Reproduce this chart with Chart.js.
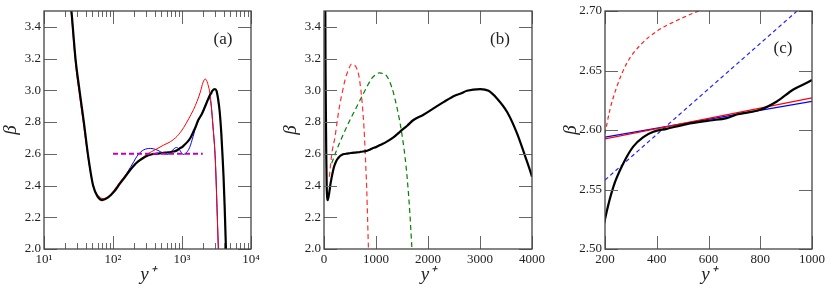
<!DOCTYPE html>
<html>
<head>
<meta charset="utf-8">
<script src="https://cdn.jsdelivr.net/npm/chart.js@4.4.0/dist/chart.umd.min.js"></script>
<style>
  body { margin: 0; background: #fff; width: 830px; height: 289px; position: relative; overflow: hidden; }
  canvas { position: absolute; top: 0; }
</style>
</head>
<body>
<canvas id="chartA" width="270" height="289" style="left:0px"></canvas>
<canvas id="chartB" width="270" height="289" style="left:280px"></canvas>
<canvas id="chartC" width="270" height="289" style="left:560px"></canvas>
<script>
// beta profile, shared by all three panels
const blackX = [12, 16, 20, 25, 28.6, 32.7, 37.8, 43.2, 51.5, 60, 70, 85, 103, 125, 150, 175, 200, 232, 271, 309, 348, 387, 438, 516, 606, 670, 709, 799, 864, 928, 1000, 1078, 1200, 1335, 1464, 1600, 1720, 1913, 2105, 2298, 2523, 2619, 2748, 3005, 3165, 3326, 3519, 3712, 3872, 4000, 4150, 4300, 4450];
const blackY = [5.2, 4.5, 3.95, 3.5, 3.2, 3.0, 2.8, 2.6, 2.4, 2.33, 2.308, 2.325, 2.36, 2.41, 2.455, 2.495, 2.525, 2.552, 2.572, 2.586, 2.594, 2.5985, 2.601, 2.605, 2.608, 2.610, 2.613, 2.617, 2.624, 2.634, 2.642, 2.655, 2.675, 2.703, 2.74, 2.777, 2.813, 2.846, 2.886, 2.926, 2.968, 2.978, 2.997, 3.008, 2.997, 2.949, 2.865, 2.729, 2.581, 2.455, 2.27, 2.05, 1.82];

// panel (a)
const redAX = [12, 16, 20, 25, 28.6, 32.7, 37.8, 43.2, 51.5, 60, 72, 85, 103, 125, 160, 200, 249, 300, 360, 435, 542, 678, 847, 1057, 1248, 1475, 1651, 1845, 2016, 2178, 2353, 2575, 2816, 3041, 3281, 3400, 3550];
const redAY = [5.2, 4.45, 3.9, 3.47, 3.17, 2.97, 2.77, 2.585, 2.4, 2.34, 2.318, 2.33, 2.37, 2.42, 2.48, 2.53, 2.565, 2.592, 2.613, 2.632, 2.655, 2.676, 2.71, 2.765, 2.82, 2.88, 2.93, 2.99, 3.05, 3.071, 3.044, 2.96, 2.77, 2.56, 2.14, 1.95, 1.7];
const blueAX = [100, 130, 160, 179, 200, 223, 250, 279, 348, 435, 542, 620, 718, 828, 925, 1035, 1156, 1291, 1445, 1614, 1845, 2178, 2433, 2600, 2816, 3041, 3281, 3420];
const blueAY = [2.355, 2.42, 2.48, 2.515, 2.55, 2.585, 2.61, 2.625, 2.634, 2.624, 2.603, 2.596, 2.62, 2.64, 2.624, 2.596, 2.607, 2.64, 2.707, 2.78, 2.833, 2.907, 2.95, 2.93, 2.77, 2.56, 2.15, 1.9];
const magentaX = [100, 2000];
const magentaY = [2.6, 2.6];

// panel (b)
const redDashBX = [103, 150, 212, 260, 308, 360, 404, 470, 533, 590, 629, 665, 693, 720, 745, 770, 790, 822, 854, 870];
const redDashBY = [2.455, 2.6, 2.707, 2.82, 2.918, 3.0, 3.065, 3.13, 3.166, 3.158, 3.138, 3.1, 3.044, 2.97, 2.876, 2.76, 2.624, 2.372, 2.01, 1.85];
const greenDashBX = [148, 244, 340, 437, 533, 629, 758, 918, 1000, 1065, 1140, 1207, 1303, 1400, 1496, 1579, 1643, 1689, 1710];
const greenDashBY = [2.54, 2.624, 2.70, 2.77, 2.835, 2.896, 2.98, 3.075, 3.1, 3.11, 3.105, 3.09, 3.02, 2.896, 2.729, 2.518, 2.266, 2.014, 1.9];

// panel (c)
const redCX = [200, 1000];
const redCY = [2.5925, 2.627];
const blueCX = [200, 1000];
const blueCY = [2.594, 2.624];
const redDashCX = [200, 219, 245, 284, 335, 400, 477, 561, 620];
const redDashCY = [2.597, 2.617, 2.636, 2.656, 2.671, 2.683, 2.692, 2.70, 2.705];
const blueDashCX = [200, 1000];
const blueDashCY = [2.558, 2.711];

// ticks
const xTicksA = [10, 100, 1000, 10000];
const xTicksB = [0, 1000, 2000, 3000, 4000];
const xTicksC = [200, 400, 600, 800, 1000];
const yTicksAB = [2.0, 2.2, 2.4, 2.6, 2.8, 3.0, 3.2, 3.4];
const yTicksC = [2.50, 2.55, 2.60, 2.65, 2.70];

const sup = { 1: '\u00b9', 2: '\u00b2', 3: '\u00b3', 4: '\u2074' };
const tickFont = { family: '"Liberation Serif", serif', size: 13 };
const titleFont = { family: '"Liberation Serif", serif', size: 19, style: 'italic' };

function pts(xs, ys) {
    return xs.map((x, i) => ({ x: x, y: ys[i] }));
}

function line(xs, ys, color, width, dash) {
    return {
        data: pts(xs, ys),
        borderColor: color,
        borderWidth: width,
        borderDash: dash || [],
        pointRadius: 0,
        fill: false,
        cubicInterpolationMode: 'monotone',
        clip: 0
    };
}

// frame, inward ticks on all four sides and the panel letter
const frameTicks = {
    id: 'frameTicks',
    afterDatasetsDraw(chart, args, opts) {
        const ctx = chart.ctx, a = chart.chartArea;
        const xs = chart.scales.x, ys = chart.scales.y;
        const major = 13, minor = 6;
        ctx.save();
        ctx.strokeStyle = '#666';
        ctx.lineWidth = 1;
        ctx.beginPath();
        xs.ticks.forEach(t => {
            const p = Math.round(xs.getPixelForValue(t.value)) + 0.5;
            ctx.moveTo(p, a.bottom); ctx.lineTo(p, a.bottom - major);
            ctx.moveTo(p, a.top); ctx.lineTo(p, a.top + major);
        });
        if (xs.type === 'logarithmic') {
            for (let k = 1; k < 4; k++) {
                for (let d = 2; d < 10; d++) {
                    const p = Math.round(xs.getPixelForValue(d * Math.pow(10, k))) + 0.5;
                    ctx.moveTo(p, a.bottom); ctx.lineTo(p, a.bottom - minor);
                    ctx.moveTo(p, a.top); ctx.lineTo(p, a.top + minor);
                }
            }
        }
        ys.ticks.forEach(t => {
            const p = Math.round(ys.getPixelForValue(t.value)) + 0.5;
            ctx.moveTo(a.left, p); ctx.lineTo(a.left + major, p);
            ctx.moveTo(a.right, p); ctx.lineTo(a.right - major, p);
        });
        ctx.stroke();
        ctx.strokeStyle = '#444';
        ctx.lineWidth = 1.3;
        ctx.strokeRect(a.left, a.top, a.right - a.left, a.bottom - a.top);
        ctx.fillStyle = '#222';
        ctx.font = '17px "Liberation Serif", serif';
        ctx.textAlign = 'center';
        ctx.textBaseline = 'middle';
        ctx.fillText(opts.label, a.right - opts.dx, a.top + opts.dy);
        ctx.restore();
    }
};

function xScale(type, min, max, ticks, fmt) {
    return {
        type: type, min: min, max: max,
        afterBuildTicks: s => { s.ticks = ticks.map(v => ({ value: v })); },
        afterFit: s => { s.height = 40; s.paddingLeft = 0; s.paddingRight = 0; },
        grid: { display: false, drawTicks: false },
        border: { display: false },
        ticks: { callback: fmt, font: tickFont, color: '#222', padding: 3, maxRotation: 0, autoSkip: false },
        title: { display: true, text: 'y\u207a', font: titleFont, color: '#222', padding: { top: 0, bottom: 3 } }
    };
}

function yScale(min, max, ticks, dec, w) {
    return {
        type: 'linear', min: min, max: max,
        afterBuildTicks: s => { s.ticks = ticks.map(v => ({ value: v })); },
        afterFit: s => { s.width = w; s.paddingTop = 0; s.paddingBottom = 0; },
        grid: { display: false, drawTicks: false },
        border: { display: false },
        ticks: { callback: v => v.toFixed(dec), font: tickFont, color: '#222', padding: 3, autoSkip: false },
        title: { display: true, text: '\u03b2', font: titleFont, color: '#222', padding: { top: 0, bottom: 0 } }
    };
}

function makeChart(id, datasets, xs, ys, padRight, label) {
    return new Chart(document.getElementById(id), {
        type: 'line',
        data: { datasets: datasets },
        options: {
            responsive: false,
            animation: false,
            devicePixelRatio: 1,
            layout: { padding: { left: 0, right: padRight, top: 11, bottom: 0 } },
            plugins: { legend: { display: false }, tooltip: { enabled: false }, frameTicks: label },
            scales: { x: xs, y: ys }
        },
        plugins: [frameTicks]
    });
}

const logFmt = v => '10' + sup[Math.round(Math.log10(v))];

makeChart('chartA', [
    line(magentaX, magentaY, '#bf00bf', 2, [5, 3]),
    line(blackX, blackY, '#000000', 2.2),
    line(redAX, redAY, '#ff0000', 1),
    line(blueAX, blueAY, '#0000ff', 1)
], xScale('logarithmic', 10, 10000, xTicksA, logFmt), yScale(2.0, 3.5, yTicksAB, 1, 44), 19, { label: '(a)', dx: 28, dy: 29 });

makeChart('chartB', [
    line(blackX, blackY, '#000000', 2.2),
    line(redDashBX, redDashBY, '#ff3030', 1.2, [5, 3.5]),
    line(greenDashBX, greenDashBY, '#008000', 1.2, [5, 3.5])
], xScale('linear', 0, 4000, xTicksB, v => String(v)), yScale(2.0, 3.5, yTicksAB, 1, 44), 18, { label: '(b)', dx: 32, dy: 29 });

makeChart('chartC', [
    line(blackX, blackY, '#000000', 2.2),
    line(redCX, redCY, '#ff0000', 1.2),
    line(blueCX, blueCY, '#0000ff', 1.2),
    line(redDashCX, redDashCY, '#ff2020', 1.2, [4, 3]),
    line(blueDashCX, blueDashCY, '#2020ff', 1.2, [4, 3])
], xScale('linear', 200, 1000, xTicksC, v => String(v)), yScale(2.5, 2.7, yTicksC, 2, 45), 18, { label: '(c)', dx: 29, dy: 38 });
</script>
</body>
</html>
